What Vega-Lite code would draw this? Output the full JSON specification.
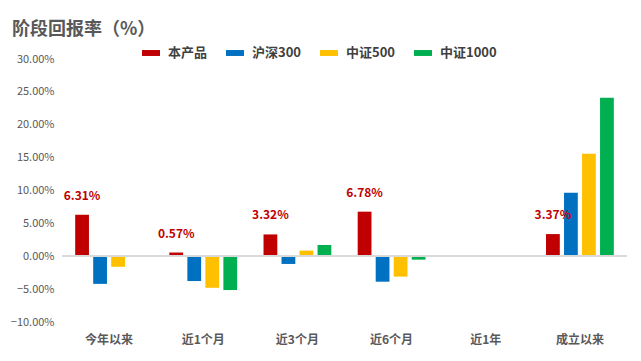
{
  "$schema": "https://vega.github.io/schema/vega-lite/v6.json",
  "width": 565,
  "height": 263,
  "autosize": {"type": "none"},
  "padding": {"left": 62, "top": 59, "right": 14, "bottom": 39},
  "background": "white",
  "config": {"view": {"stroke": null}, "font": "Noto Sans CJK SC"},
  "title": {
    "text": "阶段回报率（%）",
    "anchor": "start",
    "frame": "group",
    "dx": -50,
    "dy": 19,
    "offset": 24,
    "fontSize": 18,
    "fontWeight": "bold",
    "color": "#595959",
    "font": "Noto Sans CJK SC"
  },
  "data": {
    "values": [
      {"period": "今年以来", "series": "本产品", "value": 0.0631},
      {"period": "今年以来", "series": "沪深300", "value": -0.042},
      {"period": "今年以来", "series": "中证500", "value": -0.016},
      {"period": "近1个月", "series": "本产品", "value": 0.0057},
      {"period": "近1个月", "series": "沪深300", "value": -0.0377},
      {"period": "近1个月", "series": "中证500", "value": -0.048},
      {"period": "近1个月", "series": "中证1000", "value": -0.0514},
      {"period": "近3个月", "series": "本产品", "value": 0.0332},
      {"period": "近3个月", "series": "沪深300", "value": -0.0117},
      {"period": "近3个月", "series": "中证500", "value": 0.0086},
      {"period": "近3个月", "series": "中证1000", "value": 0.0172},
      {"period": "近6个月", "series": "本产品", "value": 0.0678},
      {"period": "近6个月", "series": "沪深300", "value": -0.0387},
      {"period": "近6个月", "series": "中证500", "value": -0.031},
      {"period": "近6个月", "series": "中证1000", "value": -0.0052},
      {"period": "成立以来", "series": "本产品", "value": 0.0337},
      {"period": "成立以来", "series": "沪深300", "value": 0.0965},
      {"period": "成立以来", "series": "中证500", "value": 0.156},
      {"period": "成立以来", "series": "中证1000", "value": 0.241}
    ]
  },
  "encoding": {
    "x": {
      "field": "period",
      "type": "nominal",
      "sort": null,
      "scale": {
        "domain": ["今年以来", "近1个月", "近3个月", "近6个月", "近1年", "成立以来"],
        "paddingInner": 0.28,
        "paddingOuter": 0.14
      },
      "axis": {
        "title": null,
        "orient": "bottom",
        "domain": false,
        "ticks": false,
        "labelAngle": 0,
        "labelPadding": 12,
        "labelFontSize": 12,
        "labelFontWeight": "bold",
        "labelColor": "#595959",
        "labelFont": "Noto Sans CJK SC"
      }
    },
    "xOffset": {
      "field": "series",
      "type": "nominal",
      "sort": ["本产品", "沪深300", "中证500", "中证1000"],
      "scale": {"paddingInner": 0.235, "paddingOuter": 0}
    },
    "y": {
      "field": "value",
      "type": "quantitative",
      "scale": {"domain": [-0.1, 0.3], "nice": false, "zero": true},
      "axis": {
        "title": null,
        "format": ".2%",
        "values": [-0.1, -0.05, 0, 0.05, 0.1, 0.15, 0.2, 0.25, 0.3],
        "labelOverlap": false,
        "grid": false,
        "domain": false,
        "ticks": false,
        "labelPadding": 8,
        "labelFontSize": 11,
        "labelColor": "#595959",
        "labelFont": "Noto Sans CJK SC"
      }
    }
  },
  "layer": [
    {
      "mark": {"type": "bar"},
      "encoding": {
        "color": {
          "field": "series",
          "type": "nominal",
          "sort": ["本产品", "沪深300", "中证500", "中证1000"],
          "scale": {
            "domain": ["本产品", "沪深300", "中证500", "中证1000"],
            "range": ["#C00000", "#0070C0", "#FFC000", "#00B050"]
          },
          "legend": {
            "title": null,
            "orient": "none",
            "direction": "horizontal",
            "legendX": 80,
            "legendY": -15,
            "symbolType": "M-1,-0.33H1V0.33H-1Z",
            "symbolSize": 324,
            "symbolStrokeWidth": 0,
            "labelFontSize": 13,
            "labelFontWeight": "bold",
            "labelColor": "#404040",
            "labelFont": "Noto Sans CJK SC",
            "labelOffset": 8,
            "columnPadding": 18
          }
        }
      }
    },
    {
      "mark": {"type": "rule", "color": "#d9d9d9", "strokeWidth": 1},
      "encoding": {"y": {"datum": 0, "type": "quantitative"}, "x": null, "xOffset": null}
    },
    {
      "transform": [{"filter": "datum.series === '本产品'"}],
      "mark": {"type": "text", "dy": -19, "fontSize": 12, "fontWeight": "bold", "color": "#C00000", "font": "Noto Sans CJK SC"},
      "encoding": {
        "text": {"field": "value", "type": "quantitative", "format": ".2%"}
      }
    }
  ]
}
